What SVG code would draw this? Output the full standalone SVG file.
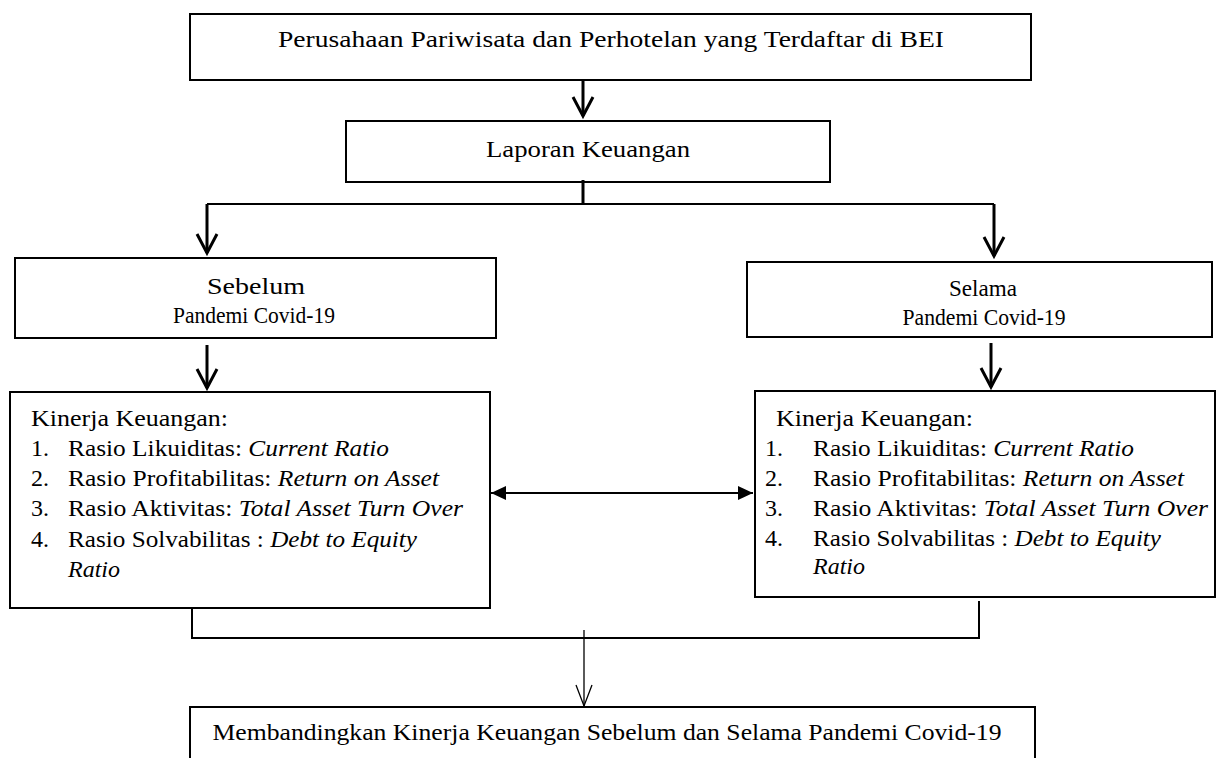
<svg xmlns="http://www.w3.org/2000/svg" width="1224" height="758" viewBox="0 0 1224 758">
<style>
  .box { fill: #fff; stroke: #000; stroke-width: 2; }
  .t { font-family: "Liberation Serif", "Times New Roman", serif; font-size: 24px; fill: #000; }
  .c { text-anchor: middle; }
  .i { font-style: italic; }
  .thick { stroke: #000; stroke-width: 3; fill: none; }
  .thin { stroke: #000; stroke-width: 1.3; fill: none; }
  .mid { stroke: #000; stroke-width: 2; fill: none; }
</style>
<defs>
  <marker id="chev" markerUnits="userSpaceOnUse" viewBox="-22 -12 24 24" refX="0" refY="0" markerWidth="24" markerHeight="24" orient="auto" overflow="visible">
    <path d="M-19,-10 L0,0 L-19,10" fill="none" stroke="#000" stroke-width="3"/>
  </marker>
  <marker id="chevThin" markerUnits="userSpaceOnUse" viewBox="-22 -12 24 24" refX="0" refY="0" markerWidth="24" markerHeight="24" orient="auto" overflow="visible">
    <path d="M-21,-8 L0,0 L-21,8" fill="none" stroke="#000" stroke-width="1.3"/>
  </marker>
  <marker id="tri" markerUnits="userSpaceOnUse" viewBox="-16 -8 16 16" refX="0" refY="0" markerWidth="16" markerHeight="16" orient="auto-start-reverse" overflow="visible">
    <path d="M-15,-7 L0,0 L-15,7 Z" fill="#000"/>
  </marker>
</defs>

<g id="node-perusahaan">
  <rect class="box" x="190" y="14" width="841" height="66"/>
  <text class="t c" x="611" y="47" textLength="666" lengthAdjust="spacingAndGlyphs">Perusahaan Pariwisata dan Perhotelan yang Terdaftar di BEI</text>
</g>

<g id="node-laporan">
  <rect class="box" x="346" y="121" width="484" height="61"/>
  <text class="t c" x="588" y="157" textLength="204" lengthAdjust="spacingAndGlyphs">Laporan Keuangan</text>
</g>

<g id="node-sebelum">
  <rect class="box" x="15" y="258" width="481" height="80"/>
  <text class="t c" x="256" y="294" textLength="98" lengthAdjust="spacingAndGlyphs">Sebelum</text>
  <text class="t c" x="254" y="323" textLength="162" lengthAdjust="spacingAndGlyphs">Pandemi Covid-19</text>
</g>

<g id="node-selama">
  <rect class="box" x="747" y="262" width="465" height="75"/>
  <text class="t c" x="983" y="296" textLength="68" lengthAdjust="spacingAndGlyphs">Selama</text>
  <text class="t c" x="984" y="325" textLength="163" lengthAdjust="spacingAndGlyphs">Pandemi Covid-19</text>
</g>

<g id="node-kinerja-sebelum">
  <rect class="box" x="10" y="392" width="480" height="216"/>
  <text class="t" x="31" y="426" textLength="197" lengthAdjust="spacingAndGlyphs">Kinerja Keuangan:</text>
  <text class="t" x="31" y="456">1.</text>
  <text class="t" x="68" y="456" textLength="321" lengthAdjust="spacingAndGlyphs">Rasio Likuiditas: <tspan class="i">Current Ratio</tspan></text>
  <text class="t" x="31" y="486">2.</text>
  <text class="t" x="68" y="486" textLength="371" lengthAdjust="spacingAndGlyphs">Rasio Profitabilitas: <tspan class="i">Return on Asset</tspan></text>
  <text class="t" x="31" y="516">3.</text>
  <text class="t" x="68" y="516" textLength="395" lengthAdjust="spacingAndGlyphs">Rasio Aktivitas: <tspan class="i">Total Asset Turn Over</tspan></text>
  <text class="t" x="31" y="547">4.</text>
  <text class="t" x="68" y="547" textLength="349" lengthAdjust="spacingAndGlyphs">Rasio Solvabilitas : <tspan class="i">Debt to Equity</tspan></text>
  <text class="t i" x="68" y="577">Ratio</text>
</g>

<g id="node-kinerja-selama">
  <rect class="box" x="755" y="391" width="460" height="206"/>
  <text class="t" x="776" y="426" textLength="197" lengthAdjust="spacingAndGlyphs">Kinerja Keuangan:</text>
  <text class="t" x="765" y="456">1.</text>
  <text class="t" x="813" y="456" textLength="321" lengthAdjust="spacingAndGlyphs">Rasio Likuiditas: <tspan class="i">Current Ratio</tspan></text>
  <text class="t" x="765" y="486">2.</text>
  <text class="t" x="813" y="486" textLength="371" lengthAdjust="spacingAndGlyphs">Rasio Profitabilitas: <tspan class="i">Return on Asset</tspan></text>
  <text class="t" x="765" y="516">3.</text>
  <text class="t" x="813" y="516" textLength="395" lengthAdjust="spacingAndGlyphs">Rasio Aktivitas: <tspan class="i">Total Asset Turn Over</tspan></text>
  <text class="t" x="765" y="546">4.</text>
  <text class="t" x="813" y="546" textLength="348" lengthAdjust="spacingAndGlyphs">Rasio Solvabilitas : <tspan class="i">Debt to Equity</tspan></text>
  <text class="t i" x="813" y="574">Ratio</text>
</g>

<g id="node-membandingkan">
  <path class="box" d="M190,758 L190,707 L1035,707 L1035,758"/>
  <text class="t c" x="607" y="740" textLength="789" lengthAdjust="spacingAndGlyphs">Membandingkan Kinerja Keuangan Sebelum dan Selama Pandemi Covid-19</text>
</g>

<g id="connectors">
  <line class="thick" x1="583" y1="80" x2="583" y2="116" marker-end="url(#chev)"/>
  <polyline class="thick" points="583,180 583,204"/>
  <polyline class="mid" points="207,204 994,204"/>
  <line class="thick" x1="207" y1="204" x2="207" y2="253" marker-end="url(#chev)"/>
  <line class="thick" x1="994" y1="204" x2="994" y2="256" marker-end="url(#chev)"/>
  <line class="thick" x1="207" y1="345" x2="207" y2="388" marker-end="url(#chev)"/>
  <line class="thick" x1="991" y1="343" x2="991" y2="387" marker-end="url(#chev)"/>
  <line class="mid" x1="491" y1="493" x2="753" y2="493" marker-start="url(#tri)" marker-end="url(#tri)"/>
  <polyline class="mid" points="192,607 192,638 979,638 979,601"/>
  <line class="thin" x1="584" y1="630" x2="584" y2="706" marker-end="url(#chevThin)"/>
</g>
</svg>
